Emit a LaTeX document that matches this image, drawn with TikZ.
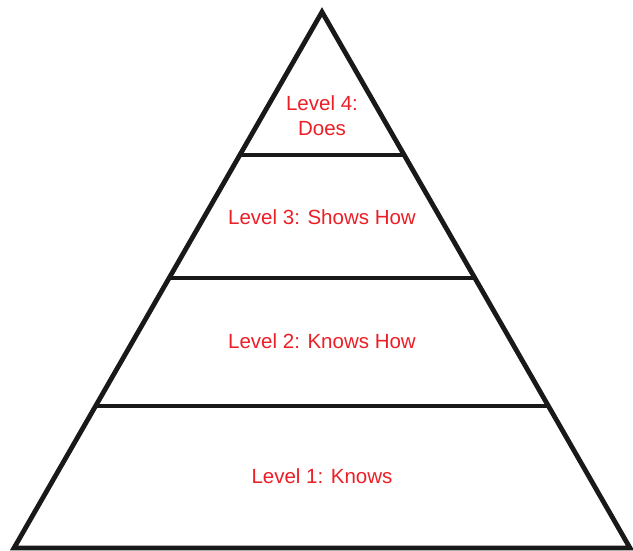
\documentclass[tikz,border=0pt]{standalone}
\usepackage{fontspec}
\setmainfont{Liberation Sans}
\definecolor{lvlred}{RGB}{236,30,38}
\begin{document}
\begin{tikzpicture}[x=1pt,y=-1pt,
  edge/.style={draw=black!90, line width=4.8pt, line join=miter},
  lvl/.style={text=lvlred, font=\fontsize{20.5}{25}\selectfont, align=center, inner sep=0pt}]
\useasboundingbox (0,0) rectangle (633,551);
\coordinate (apex) at (322,12);
\coordinate (bl) at (14,548);
\coordinate (br) at (630,548);
\coordinate (l1) at (240,155); \coordinate (r1) at (404,155);
\coordinate (l2) at (169,278); \coordinate (r2) at (475,278);
\coordinate (l3) at (96,406);  \coordinate (r3) at (548,406);
\draw[edge] (apex) -- (br) -- (bl) -- cycle;
\draw[edge, line cap=butt] (l1) -- (r1);
\draw[edge, line cap=butt] (l2) -- (r2);
\draw[edge, line cap=butt] (l3) -- (r3);
\node[lvl] (t4) at (322,116) {Level 4:\\Does};
\node[lvl] (t3) at (322,217) {Level 3: Shows How};
\node[lvl] (t2) at (322,341) {Level 2: Knows How};
\node[lvl] (t1) at (322,476) {Level 1: Knows};
\end{tikzpicture}
\end{document}
